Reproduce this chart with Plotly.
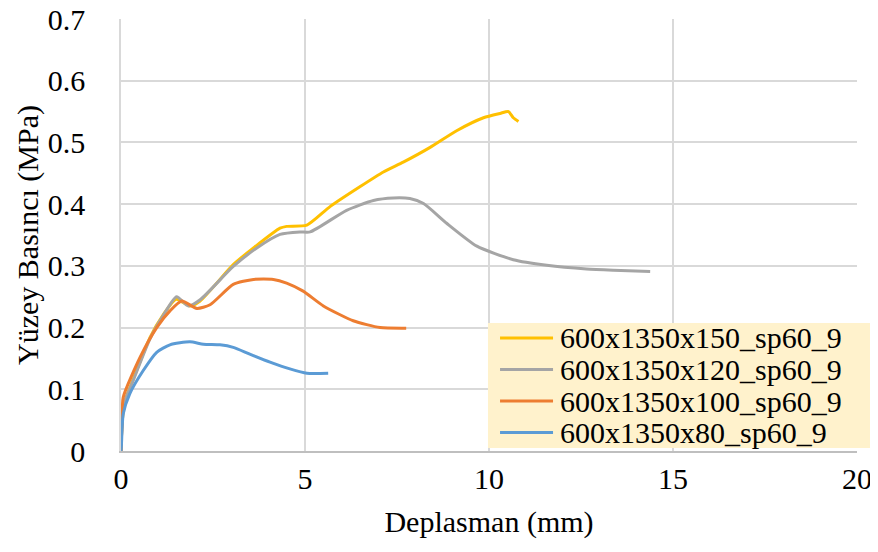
import plotly.graph_objects as go

# Series data (Deplasman mm, Yüzey Basıncı MPa)
x150 = [0, 0.03, 0.1, 0.33, 0.79, 1.15, 1.5, 1.87, 2.15, 3.05, 3.6, 4.32, 4.5, 5.05, 5.68, 6.49, 7.13, 7.67, 8.4, 9.12, 9.85, 10.3, 10.53, 10.66, 10.8]
y150 = [0, 0.045, 0.08, 0.116, 0.184, 0.221, 0.246, 0.235, 0.243, 0.302, 0.329, 0.361, 0.364, 0.366, 0.396, 0.428, 0.452, 0.468, 0.492, 0.519, 0.540, 0.547, 0.550, 0.540, 0.534]

x120 = [0, 0.03, 0.1, 0.33, 0.79, 1.15, 1.51, 1.83, 2.15, 3.05, 3.69, 4.32, 4.86, 5.14, 6.13, 6.86, 7.4, 7.85, 8.22, 8.85, 9.67, 10.66, 11.57, 12.65, 13.38, 14.38]
y120 = [0, 0.045, 0.08, 0.114, 0.182, 0.22, 0.250, 0.235, 0.245, 0.299, 0.329, 0.351, 0.355, 0.355, 0.390, 0.406, 0.410, 0.409, 0.401, 0.369, 0.332, 0.310, 0.301, 0.295, 0.293, 0.291]

x100 = [0, 0.03, 0.06, 0.52, 0.97, 1.33, 1.65, 2.06, 2.42, 3.05, 3.6, 4.14, 4.5, 4.95, 5.5, 6.31, 7.04, 7.75]
y100 = [0, 0.05, 0.087, 0.152, 0.200, 0.227, 0.243, 0.231, 0.237, 0.270, 0.278, 0.278, 0.272, 0.259, 0.235, 0.211, 0.200, 0.199]

x80 = [0, 0.01, 0.06, 0.24, 0.6, 0.97, 1.33, 1.87, 2.24, 2.69, 3.05, 3.5, 4.05, 4.59, 5.05, 5.63]
y80 = [0, 0.007, 0.06, 0.093, 0.130, 0.160, 0.172, 0.177, 0.173, 0.172, 0.168, 0.157, 0.144, 0.133, 0.126, 0.126]

names = ["600x1350x150_sp60_9", "600x1350x120_sp60_9", "600x1350x100_sp60_9", "600x1350x80_sp60_9"]
colors = ["#FFC000", "#A5A5A5", "#ED7D31", "#5B9BD5"]
xs = [x150, x120, x100, x80]
ys = [y150, y120, y100, y80]

x_ticks = [0, 5, 10, 15, 20]
y_ticks = [0, 0.1, 0.2, 0.3, 0.4, 0.5, 0.6, 0.7]

FONT = "Liberation Serif"

fig = go.Figure()
for n, c, xv, yv in zip(names, colors, xs, ys):
    fig.add_trace(go.Scatter(x=xv, y=yv, mode="lines", name=n, showlegend=False,
                             line=dict(color=c, width=3, shape="spline", smoothing=0.6)))

# Legend box (drawn as shapes + text, to match the tight line spacing)
leg_x0, leg_x1, leg_y0, leg_y1 = 0.4986, 1.019, 0.0069, 0.2963
row_y = [0.2616, 0.1887, 0.1157, 0.0428]
fig.add_shape(type="rect", xref="paper", yref="paper", x0=leg_x0, x1=leg_x1, y0=leg_y0, y1=leg_y1,
              fillcolor="#FFF2CC", line=dict(width=0), layer="above")
for n, c, ry in zip(names, colors, row_y):
    fig.add_shape(type="line", xref="paper", yref="paper", x0=0.515, x1=0.587, y0=ry, y1=ry,
                  line=dict(color=c, width=3), layer="above")
    fig.add_annotation(xref="paper", yref="paper", x=0.5938, y=ry, text=n, showarrow=False,
                       xanchor="left", yanchor="middle",
                       font=dict(family=FONT, size=30, color="#000000"))

fig.update_layout(
    width=870, height=544,
    margin=dict(l=113, r=21, t=11, b=101),
    paper_bgcolor="white", plot_bgcolor="white",
    font=dict(family=FONT, size=30, color="#000000"),
    showlegend=False,
    xaxis=dict(range=[0, 20], tickvals=x_ticks, ticktext=[str(v) for v in x_ticks],
               showgrid=True, gridcolor="#D9D9D9", gridwidth=1.5,
               zeroline=False, showline=True, linecolor="#BFBFBF", linewidth=1.5,
               ticks="", ticklabelstandoff=0, automargin=False, ticklabeloverflow="allow",
               title=dict(text="Deplasman (mm)", font=dict(family=FONT, size=30), standoff=17)),
    yaxis=dict(range=[0, 0.7], tickvals=y_ticks, ticktext=["0"] + [f"{v:.1f}" for v in y_ticks[1:]],
               showgrid=True, gridcolor="#D9D9D9", gridwidth=1.5,
               zeroline=False, showline=True, linecolor="#D9D9D9", linewidth=1.5,
               ticks="", ticklabelstandoff=28, automargin=False,
               ticklabeloverflow="allow",
               title=dict(text="Yüzey Basıncı (MPa)", font=dict(family=FONT, size=30), standoff=0)),
)

fig.write_html("out.html")
